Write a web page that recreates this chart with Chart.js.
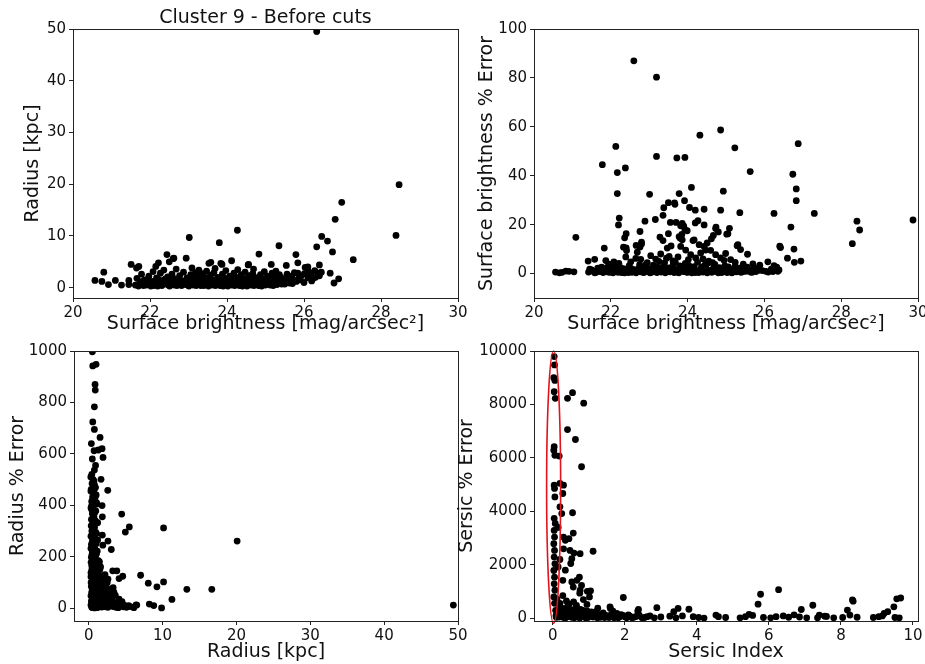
<!DOCTYPE html>
<html>
<head>
<meta charset="utf-8">
<script src="https://cdn.jsdelivr.net/npm/chart.js@4.4.0/dist/chart.umd.min.js"></script>
<style>
  body { margin: 0; background: #fff; }
  .wrap { position: relative; width: 925px; height: 664px; }
  canvas { position: absolute; }
</style>
</head>
<body>
<div class="wrap">
  <canvas id="chart-sb-radius" width="470" height="340" style="left:0;top:0"></canvas>
  <canvas id="chart-sb-err" width="470" height="340" style="left:455px;top:0"></canvas>
  <canvas id="chart-radius-err" width="470" height="324" style="left:0;top:340px"></canvas>
  <canvas id="chart-sersic-err" width="470" height="324" style="left:455px;top:340px"></canvas>
</div>
<script>
const titleText = "Cluster 9 - Before cuts";

const sbTicks = [20, 22, 24, 26, 28, 30];
const radiusTicks = [0, 10, 20, 30, 40, 50];
const sbErrTicks = [0, 20, 40, 60, 80, 100];
const radiusKpcTicks = [0, 10, 20, 30, 40, 50];
const radiusErrTicks = [0, 200, 400, 600, 800, 1000];
const sersicTicks = [0, 2, 4, 6, 8, 10];
const sersicErrTicks = [0, 2000, 4000, 6000, 8000, 10000];

// [surface brightness, radius kpc]
const sbRadius = [
  [26.33,49.5],[28.47,19.9],[28.39,10.1],[26.98,16.5],[26.81,13.2],[26.46,9.9],[26.61,9.0],[26.33,7.9],
  [26.74,6.9],[27.28,5.4],[24.27,11.1],[23.02,9.7],[23.80,8.7],[25.35,8.1],[24.83,6.5],[25.79,6.4],
  [25.84,4.8],[22.44,6.4],[22.62,5.7],[22.94,5.7],[22.22,4.8],[21.51,4.5],[21.71,4.1],[20.80,3.0],
  [23.58,4.9],[23.87,4.5],[24.12,5.2],[24.56,4.5],[25.15,4.5],[26.03,3.9],[26.40,4.4],[25.84,2.8],
  [26.68,2.8],[25.86,1.7],[26.23,1.7],[26.78,0.9],[26.90,1.7],[20.57,1.4],[20.75,1.2],[20.92,0.6],
  [21.10,1.4],[21.26,0.5],[21.45,0.6],[21.45,1.4],[25.62,0.9],[25.23,0.6],[22.50,5.0],[21.65,3.8],
  [22.15,4.1],[23.53,4.7],[23.84,4.7],[24.55,4.4],[25.54,4.3],[26.10,4.0],[22.60,5.6],
  [21.62,0.5],[21.66,1.8],[21.74,1.0],[21.78,2.6],[21.83,0.4],[21.86,1.5],[21.93,0.7],[21.97,2.2],
  [22.02,0.3],[22.05,1.2],[22.08,3.1],[22.13,0.6],[22.17,1.9],[22.24,0.9],[22.27,2.8],[22.31,0.4],
  [22.34,1.4],[22.36,3.4],[22.42,0.7],[22.46,2.1],[22.51,0.3],[22.53,1.1],[22.57,2.6],[22.63,0.5],
  [22.66,1.7],[22.68,3.6],[22.73,0.8],[22.77,2.3],[22.82,0.4],[22.84,1.3],[22.87,3.0],[22.93,0.6],
  [22.96,1.9],[23.01,0.3],[23.04,1.0],[23.06,2.5],[23.09,3.8],[23.12,0.5],[23.15,1.6],[23.18,2.9],
  [23.22,0.8],[23.25,2.2],[23.27,3.4],[23.32,0.4],[23.35,1.2],[23.38,2.7],[23.42,0.6],[23.45,1.8],
  [23.47,3.2],[23.52,0.3],[23.55,1.0],[23.57,2.4],[23.62,0.5],[23.64,1.5],[23.66,2.9],[23.69,3.7],
  [23.73,0.8],[23.76,2.0],[23.82,0.4],[23.85,1.3],[23.88,2.6],[23.92,0.6],[23.95,1.8],[23.97,3.3],
  [24.02,0.3],[24.05,1.1],[24.07,2.2],[24.12,0.5],[24.15,1.5],[24.18,2.8],[24.22,0.7],[24.24,2.0],
  [24.28,3.5],[24.32,0.4],[24.35,1.2],[24.37,2.5],[24.42,0.6],[24.45,1.7],[24.47,3.0],[24.52,0.3],
  [24.55,1.0],[24.57,2.3],[24.62,0.5],[24.64,1.4],[24.67,2.7],[24.69,3.6],[24.73,0.8],[24.76,1.9],
  [24.82,0.4],[24.85,1.2],[24.87,2.5],[24.92,0.6],[24.95,1.7],[24.97,3.1],[25.02,0.9],[25.05,2.2],
  [25.12,0.5],[25.14,1.5],[25.17,2.8],[25.22,0.8],[25.25,2.0],[25.27,3.2],[25.32,1.1],[25.36,2.5],
  [25.42,0.7],[25.45,1.6],[25.52,1.2],[25.56,2.6],[25.63,1.8],[25.67,2.2],[25.72,1.4],[25.75,2.9],
  [25.92,2.2],[26.01,2.7],[26.12,3.1],[26.18,2.4],[26.28,3.3],[26.36,2.8],
  [21.70,0.3],[21.80,1.2],[21.90,0.5],[21.95,1.4],[22.00,0.8],[22.10,0.4],[22.15,1.3],[22.20,0.3],
  [22.22,1.6],[22.28,0.6],[22.38,0.9],[22.40,1.7],[22.48,0.5],[22.55,1.5],[22.60,0.9],[22.70,0.4],
  [22.72,1.4],[22.79,1.0],[22.90,1.1],[22.98,0.5],[23.00,1.4],[23.10,0.8],[23.14,2.1],[23.20,0.4],
  [23.23,1.3],[23.30,0.9],[23.30,1.8],[23.40,0.4],[23.43,1.3],[23.50,0.6],[23.50,1.9],[23.58,0.8],
  [23.60,1.2],[23.70,0.4],[23.72,1.5],[23.80,1.0],[23.83,1.9],[23.90,0.3],[23.93,1.2],[24.00,0.7],
  [24.00,1.6],[24.10,0.9],[24.10,2.0],[24.20,0.4],[24.20,1.3],[24.30,0.8],[24.30,1.8],[24.40,0.3],
  [24.40,1.1],[24.50,0.6],[24.50,1.7],[24.60,0.9],[24.60,2.0],[24.70,0.4],[24.72,1.3],[24.80,0.8],
  [24.80,1.9],[24.90,0.3],[24.90,1.2],[25.00,0.5],[25.00,1.5],[25.08,0.8],[25.10,1.9],[25.20,0.4],
  [25.20,1.3],[25.30,0.6],[25.30,1.7],[25.40,1.0],[25.40,2.0],[25.50,0.7],[25.55,1.6],[25.60,1.1],
  [25.70,0.8],[25.70,1.8],[25.80,1.2],[25.90,1.5],[26.00,1.0],[26.10,1.9],[26.20,1.3],[26.30,2.0],
  [26.40,2.3],[26.45,3.0]
];

// [surface brightness, surface brightness % error]
const sbError = [
  [22.60,87.0],[23.19,80.3],[24.86,58.7],[24.32,56.6],[26.88,53.1],[22.13,52.0],[25.23,51.4],[23.19,47.9],
  [23.72,47.3],[23.93,47.5],[21.78,44.5],[22.38,43.2],[22.17,41.3],[25.63,41.7],[26.74,40.6],[24.10,35.2],
  [24.93,33.7],[26.83,34.6],[22.17,32.7],[23.01,32.4],[23.78,32.7],[23.92,29.8],[26.83,29.8],[23.50,29.0],
  [23.66,28.9],[23.67,28.3],[23.38,26.9],[24.05,27.0],[24.43,26.3],[24.20,25.9],[24.86,25.9],[25.36,24.9],
  [26.25,24.6],[27.30,24.6],[23.36,23.8],[22.22,22.7],[23.16,22.1],[29.87,21.9],[28.41,21.4],[22.89,21.4],
  [24.27,21.6],[24.20,20.7],[23.55,20.9],[23.70,20.9],[23.86,20.5],[22.20,19.9],[24.43,19.9],[23.90,19.4],
  [23.93,18.0],[26.69,19.0],[24.74,19.0],[25.09,18.5],[28.48,17.8],[22.76,17.2],[24.80,17.0],[25.05,16.3],
  [23.50,16.3],[22.40,16.3],[22.36,14.6],[24.67,15.6],[21.09,14.8],[23.28,14.9],[23.36,13.5],[23.80,14.5],
  [23.85,16.0],[24.14,13.5],[22.80,12.1],[28.29,12.2],[25.29,11.4],[26.40,11.2],[26.42,10.6],[26.77,10.0],
  [21.83,10.4],[22.76,10.9],[22.40,10.5],[23.57,11.3],[25.56,7.9],[26.60,6.3],[26.78,4.6],[26.95,5.1],
  [21.41,5.1],[21.58,5.8],[26.09,4.8],[21.87,5.3],[22.33,10.8],[22.41,9.4],[22.66,11.5],[22.69,8.7],
  [22.80,12.8],[24.73,18.4],[25.02,16.1],[24.62,14.2],[23.82,19.5],[23.99,17.5],[23.78,15.1],[23.86,13.8],
  [23.82,11.1],[23.47,10.4],[23.52,7.0],[24.17,13.8],[24.30,11.8],[24.43,11.1],[24.51,12.5],[24.60,9.5],
  [25.31,11.8],[25.38,9.8],[23.04,7.3],[23.17,5.9],[23.30,8.0],[23.95,9.6],[24.08,7.7],[24.21,6.4],
  [24.34,8.4],[24.47,9.6],[24.73,7.7],[24.86,6.4],[24.99,8.2],[25.12,5.7],[22.39,6.8],[22.52,4.8],
  [22.65,6.2],[22.08,4.8],[22.21,4.1],[23.62,5.2],[23.75,6.8],[24.55,5.1],[25.24,4.6],[25.70,3.9],
  [25.88,3.4],[21.95,3.8],[26.32,2.6],
  [21.42,0.6],[21.50,1.5],[21.58,0.3],[21.66,2.2],[21.72,0.8],[21.80,0.4],[21.86,1.8],[21.93,0.6],
  [22.00,2.9],[22.06,0.3],[22.12,1.2],[22.19,0.5],[22.25,2.4],[22.30,0.9],[22.36,0.3],[22.43,1.6],
  [22.48,3.2],[22.55,0.5],[22.60,1.1],[22.66,0.3],[22.72,2.0],[22.78,0.7],[22.85,0.4],[22.90,3.4],
  [22.96,1.3],[23.02,0.3],[23.08,2.2],[23.13,0.8],[23.20,0.4],[23.24,1.7],[23.31,0.6],[23.37,3.0],
  [23.42,0.3],[23.48,1.4],[23.54,0.7],[23.60,2.6],[23.65,0.4],[23.71,1.1],[23.77,0.3],[23.83,2.0],
  [23.89,0.8],[23.94,4.1],[24.00,0.5],[24.06,1.6],[24.11,0.3],[24.17,2.8],[24.23,0.9],[24.29,0.4],
  [24.34,1.9],[24.40,0.6],[24.46,3.6],[24.51,0.3],[24.57,1.2],[24.63,0.5],[24.68,2.4],[24.74,0.8],
  [24.80,0.3],[24.86,1.5],[24.91,0.6],[24.97,3.1],[25.03,0.4],[25.09,1.0],[25.15,0.3],[25.21,2.1],
  [25.27,0.7],[25.33,1.4],[25.39,0.5],[25.46,2.0],[25.52,0.9],[25.58,1.6],[25.64,0.6],[25.71,1.9],
  [25.78,0.8],[25.86,1.3],[26.04,0.9],[26.18,1.8],[26.25,3.2],[26.30,2.2],[26.35,0.9],[26.38,1.5],
  [20.56,0.6],[20.66,0.3],[20.73,0.5],[20.83,1.0],[20.91,0.9],[21.04,0.7],
  [21.45,1.8],[21.55,0.9],[21.62,0.5],[21.70,1.4],[21.76,2.6],[21.84,0.9],[21.90,2.4],[21.98,0.5],
  [22.03,1.6],[22.09,0.8],[22.16,2.8],[22.22,1.3],[22.28,0.4],[22.33,2.0],[22.40,0.8],[22.46,0.4],
  [22.52,2.1],[22.58,1.7],[22.63,0.8],[22.70,1.1],[22.75,3.6],[22.82,1.5],[22.88,0.6],[22.94,2.4],
  [23.00,1.0],[23.06,0.5],[23.11,3.4],[23.16,1.4],[23.22,2.6],[23.28,0.9],[23.34,1.8],[23.40,4.4],
  [23.45,0.8],[23.51,2.3],[23.57,1.2],[23.63,3.9],[23.68,1.7],[23.74,0.6],[23.80,3.1],[23.86,1.2],
  [23.92,2.4],[23.97,0.6],[24.03,3.3],[24.08,1.1],[24.14,2.0],[24.20,0.4],[24.26,4.6],[24.31,1.3],
  [24.37,2.7],[24.43,0.9],[24.49,2.0],[24.54,4.4],[24.60,0.9],[24.66,1.6],[24.71,3.7],[24.77,1.1],
  [24.83,2.4],[24.88,0.4],[24.94,1.9],[25.00,0.8],[25.06,2.7],[25.12,1.3],[25.18,0.6],[25.24,3.0],
  [25.30,1.0],[25.36,2.2],[25.43,0.7],[25.49,1.5],[25.55,2.6],[25.61,1.2],[25.68,0.5],[25.74,2.4],
  [25.82,1.7],[25.95,1.2],[26.10,0.6],[26.22,0.8],[23.25,5.0],[23.45,6.3],[23.68,4.6],[24.02,5.7],
  [24.40,6.0],[24.65,4.5],[24.95,5.4],[25.45,3.8],[22.95,4.5],[22.78,5.8]
];

// [radius kpc, radius % error]
const radiusError = [
  [0.49,997],[0.54,942],[0.99,948],[0.85,870],[0.88,848],[0.76,783],[0.54,724],[0.76,695],
  [1.53,664],[1.30,615],[1.80,620],[1.93,586],[0.76,537],[1.66,501],[0.70,494],[0.76,480],
  [0.85,467],[2.57,458],[0.62,438],[0.40,399],[1.05,410],[1.80,399],[4.46,366],[1.84,355],
  [5.49,316],[4.95,296],[10.13,312],[20.09,261],[1.84,284],[2.60,261],[1.90,245],[3.05,228],
  [0.50,340],[0.55,300],[0.45,275],[3.24,145],[3.80,145],[7.02,128],[4.60,124],[4.10,115],
  [1.90,125],[2.60,113],[8.06,97],[10.13,102],[9.23,83],[3.10,73],[13.28,73],[16.66,73],
  [11.26,34],[8.20,16],[8.80,10],[9.86,1],[49.37,12],[6.40,13],[5.10,6],
  [0.35,640],[0.72,612],[0.48,580],[0.92,555],[0.41,520],[0.68,475],[0.30,455],[0.85,430],
  [0.55,420],[1.10,405],[0.38,385],[0.78,370],[0.62,350],[0.95,335],[0.33,320],[0.70,305],
  [1.05,290],[0.50,275],[0.82,260],[0.36,248],[0.66,235],[1.15,222],[0.45,210],[0.90,200],
  [0.58,190],[0.32,178],[0.75,168],[1.25,160],[0.42,150],[1.00,142],[0.63,132],[0.30,122],
  [0.88,115],[1.40,108],[0.52,100],[0.74,92],[0.35,85],[1.10,80],[0.60,72],[1.55,68],
  [0.40,62],[0.85,58],[1.25,52],[0.30,48],[0.68,44],[1.70,40],[0.48,36],[1.00,32],
  [2.00,30],[0.36,26],[0.78,24],[1.35,22],[0.55,18],[1.85,16],[0.30,12],[0.95,10],
  [1.50,8],[0.62,6],[2.30,5],[0.40,3],[1.15,2],[0.80,1],
  [1.30,185],[1.50,150],[1.70,125],[1.90,105],[2.10,88],[2.30,70],[1.60,95],[2.00,60],
  [2.40,45],[2.80,38],[3.20,30],[2.60,22],[3.00,15],[3.50,20],[3.90,12],[4.30,8],
  [4.70,5],[5.10,3],[5.60,6],[6.10,2],[6.50,12],[2.20,130],[1.80,80],[2.90,65],
  [3.60,50],[4.10,35],[2.50,100],[1.40,120],[3.30,80],[4.50,25],[5.40,10],[3.70,3],[2.70,8],
  [0.28,510],[0.60,500],[0.45,485],[0.90,470],[0.33,462],[0.72,448],[1.00,440],[0.52,432],
  [0.40,415],[0.80,408],[0.60,395],[0.30,390],[0.95,378],[0.48,368],[0.70,355],[0.36,345],
  [0.88,340],[1.20,332],[0.55,322],[0.78,315],[0.42,300],[0.95,295],[0.62,285],[0.30,280],
  [0.80,270],[1.20,265],[0.48,258],[1.00,250],[0.60,240],[0.30,232],[0.85,228],[0.50,220],
  [1.05,212],[0.70,205],[0.35,198],[0.95,188],[0.55,180],[1.30,172],[0.40,165],[0.85,158],
  [0.62,148],[1.15,140],[0.30,138],[0.78,128],[0.50,118],[1.20,112],[0.68,105],[0.32,100],
  [0.95,96],[1.50,88],[0.45,78],[0.80,72],[1.30,64],[0.55,55],[1.05,48],[1.45,36],
  [0.42,30],[0.72,14],[1.30,12],[1.75,4],[0.52,2],[2.00,12],[2.60,3],[3.30,6],
  [4.00,2],[4.80,12],[2.20,20],[1.60,28],[2.50,60],[3.00,45],[1.80,50],[2.20,42],
  [1.45,180],[1.60,160],[2.00,110],[2.30,95],[2.80,75],[3.40,62]
];

// [sersic index, sersic % error]
const sersicError = [
  [0.04,9790],[0.05,9480],[0.03,9000],[0.06,8900],[0.04,8480],[0.07,8230],[0.04,6420],[0.03,6290],
  [0.06,6100],[0.04,4980],[0.05,4860],[0.06,4540],[0.04,3740],[0.07,3550],[0.04,3290],[0.05,3040],
  [0.03,2790],[0.05,2540],[0.04,2290],[0.06,2040],[0.03,1790],[0.05,1540],[0.04,1290],[0.06,1050],
  [0.03,800],[0.05,560],
  [0.55,8440],[0.41,8230],[0.86,8050],[0.41,7060],[0.63,6690],[0.18,6070],[0.80,5670],[0.20,5050],
  [0.30,4980],[0.28,4670],[0.20,4170],[0.25,3920],[0.55,3950],[0.30,3040],[0.45,2980],[0.57,3190],
  [1.12,2510],[0.30,2600],[0.48,2540],[0.59,2440],[0.76,2420],[0.53,2230],[0.15,1920],[0.28,1420],
  [0.53,1360],[0.67,1420],[0.74,1540],[0.57,1170],[0.76,1050],[1.96,780],[1.02,800],[0.85,700],
  [1.59,430],[2.38,330],[0.15,3400],[0.35,2920],[0.50,2050],[0.20,2200],[0.35,1800],[0.80,1230],
  [0.96,1010],[1.05,1030],[0.75,940],
  [6.27,1070],[5.77,900],[5.70,530],[9.66,760],[9.55,730],[9.47,430],[9.30,250],[9.20,180],
  [8.32,690],[8.34,640],[8.18,310],[7.22,490],[6.90,330],[2.89,400],[3.36,250],[3.48,370],
  [3.78,340],[1.60,370],[1.67,270],[2.36,270],[4.53,120],[5.45,150],[7.60,70],[7.40,120],
  [9.62,20],[9.50,30],
  [0.12,150],[0.18,50],[0.22,320],[0.27,90],[0.31,200],[0.36,20],[0.40,420],[0.44,130],
  [0.49,260],[0.53,40],[0.58,180],[0.62,350],[0.66,70],[0.71,220],[0.75,10],[0.80,140],
  [0.84,300],[0.89,60],[0.93,190],[0.98,30],[1.02,110],[1.07,240],[1.12,50],[1.18,160],
  [1.24,20],[1.30,90],[1.37,140],[1.44,30],[1.52,70],[1.61,120],[1.70,20],[1.78,180],
  [1.86,60],[1.95,110],[2.05,20],[2.14,80],[2.25,40],[2.40,120],[2.55,30],[2.70,90],
  [2.82,20],[3.00,50],[3.25,80],[3.42,20],[3.60,90],[3.90,60],[4.05,30],[4.20,10],
  [4.60,60],[4.80,30],[5.20,20],[5.35,60],[5.55,110],[5.85,30],[6.05,20],[6.20,60],
  [6.40,90],[6.55,40],[6.70,130],[6.85,50],[7.05,20],[7.35,20],[7.55,80],[7.80,20],
  [8.05,30],[8.25,120],[8.45,40],[8.90,30],[9.05,60],[9.15,90],
  [0.10,40],[0.15,260],[0.20,120],[0.25,380],[0.30,30],[0.34,300],[0.38,150],[0.43,60],
  [0.47,340],[0.52,200],[0.56,90],[0.60,20],[0.64,270],[0.68,150],[0.73,50],[0.77,330],
  [0.82,220],[0.86,110],[0.91,20],[0.95,280],[1.00,160],[1.05,60],[1.10,200],[1.15,100],
  [1.20,250],[1.27,150],[1.33,40],[1.40,200],[1.48,110],[1.56,30],[1.65,160],[1.74,90],
  [1.82,20],[1.90,140],[2.00,60],[2.10,130],[2.20,20],[2.32,70],[2.48,20],[2.62,60],
  [0.20,560],[0.38,650],[0.12,720],[0.28,850],[0.45,540],[0.66,480],[0.58,610],[0.95,520],
  [1.25,380],[0.18,420],[0.08,300],[0.09,100]
];

// ring marking the n ~ 0 column: centre and half-widths in data units
const ringCentre = [0.025, 4905];
const ringHalf = [0.195, 5095];

const FONT = "DejaVu Sans";
const INK = "#111";

// box round the plot area, all four sides
const frame = {
  id: "frame",
  afterDraw(chart) {
    const a = chart.chartArea, ctx = chart.ctx;
    ctx.save();
    ctx.strokeStyle = "#222";
    ctx.lineWidth = 1;
    ctx.strokeRect(Math.round(a.left) + 0.5, Math.round(a.top) + 0.5,
      Math.round(a.right - a.left), Math.round(a.bottom - a.top));
    ctx.restore();
  }
};

const heading = {
  id: "heading",
  afterDraw(chart) {
    const a = chart.chartArea, ctx = chart.ctx;
    ctx.save();
    ctx.fillStyle = INK;
    ctx.font = "19px '" + FONT + "'";
    ctx.textAlign = "center";
    ctx.textBaseline = "alphabetic";
    ctx.fillText(titleText, (a.left + a.right) / 2, 23);
    ctx.restore();
  }
};

const ring = {
  id: "ring",
  afterDatasetsDraw(chart) {
    const sx = chart.scales.x, sy = chart.scales.y, ctx = chart.ctx;
    const cx = sx.getPixelForValue(ringCentre[0]);
    const cy = sy.getPixelForValue(ringCentre[1]);
    const rx = Math.abs(sx.getPixelForValue(ringCentre[0] + ringHalf[0]) - cx);
    const ry = Math.abs(sy.getPixelForValue(ringCentre[1] + ringHalf[1]) - cy);
    ctx.save();
    ctx.strokeStyle = "#e3131b";
    ctx.lineWidth = 1.6;
    ctx.beginPath();
    ctx.ellipse(cx, cy, rx, ry, 0, 0, Math.PI * 2);
    ctx.stroke();
    ctx.restore();
  }
};

function axis(dir, min, max, ticks, title, size, titlePad) {
  return {
    type: "linear",
    min: min,
    max: max,
    afterBuildTicks: s => { s.ticks = ticks.map(v => ({ value: v })); },
    afterFit: s => {
      if (dir === "x") s.height = size; else s.width = size;
      s.paddingLeft = 0; s.paddingRight = 0; s.paddingTop = 0; s.paddingBottom = 0;
    },
    grid: { display: true, drawOnChartArea: false, drawTicks: true, tickLength: 4, tickColor: "#222", tickWidth: 1 },
    border: { display: false },
    ticks: {
      color: INK,
      padding: dir === "x" ? 2 : 3,
      autoSkip: false,
      maxRotation: 0,
      font: { family: FONT, size: 15 },
      callback: v => String(v)
    },
    title: {
      display: true,
      text: title,
      color: INK,
      font: { family: FONT, size: 19 },
      padding: dir === "x" ? { top: 0, bottom: titlePad } : { top: titlePad, bottom: 0 }
    }
  };
}

function panel(id, pts, c, extra) {
  return new Chart(document.getElementById(id), {
    type: "scatter",
    data: {
      datasets: [{
        data: pts.map(p => ({ x: p[0], y: p[1] })),
        backgroundColor: "#000",
        borderColor: "#000",
        borderWidth: 0,
        pointRadius: 3.4,
        pointHoverRadius: 3.4
      }]
    },
    options: {
      responsive: false,
      animation: false,
      events: [],
      layout: { padding: { top: c.top, right: c.right, left: 0, bottom: 0 } },
      plugins: { legend: { display: false }, tooltip: { enabled: false } },
      scales: {
        x: axis("x", c.xMin, c.xMax, c.xTicks, c.xTitle, c.xSize, c.xPad),
        y: axis("y", c.yMin, c.yMax, c.yTicks, c.yTitle, c.ySize, c.yPad)
      }
    },
    plugins: [frame].concat(extra || [])
  });
}

panel("chart-sb-radius", sbRadius, {
  top: 29, right: 12,
  xMin: 20, xMax: 30, xTicks: sbTicks, xTitle: "Surface brightness [mag/arcsec\u00b2]", xSize: 42, xPad: 4.6,
  yMin: -2, yMax: 50, yTicks: radiusTicks, yTitle: "Radius [kpc]", ySize: 73, yPad: 21.6
}, [heading]);

panel("chart-sb-err", sbError, {
  top: 29, right: 7,
  xMin: 20, xMax: 30, xTicks: sbTicks, xTitle: "Surface brightness [mag/arcsec\u00b2]", xSize: 42, xPad: 4.6,
  yMin: -10, yMax: 100, yTicks: sbErrTicks, yTitle: "Surface brightness % Error", ySize: 79, yPad: 20.6
});

panel("chart-radius-err", radiusError, {
  top: 11, right: 12,
  xMin: -2, xMax: 50, xTicks: radiusKpcTicks, xTitle: "Radius [kpc]", xSize: 43, xPad: 1,
  yMin: -50, yMax: 1000, yTicks: radiusErrTicks, yTitle: "Radius % Error", ySize: 74, yPad: 6.6
});

panel("chart-sersic-err", sersicError, {
  top: 11, right: 7,
  xMin: -0.52, xMax: 10.14, xTicks: sersicTicks, xTitle: "Sersic Index", xSize: 43, xPad: 1,
  yMin: -100, yMax: 10000, yTicks: sersicErrTicks, yTitle: "Sersic % Error", ySize: 79, yPad: 0.6
}, [ring]);
</script>
</body>
</html>
